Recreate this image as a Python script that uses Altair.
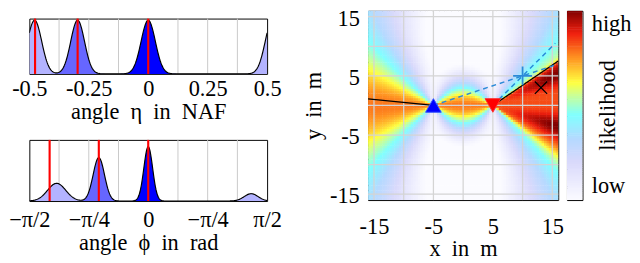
import json
import numpy as np
import pandas as pd
import altair as alt

FONT = "Liberation Serif, DejaVu Serif, serif"
FS = 23

# ---------------- top panel: angle eta in NAF ----------------
eta_means = [-0.478, -0.297, 0.0]
eta_sigmas = [0.030, 0.029, 0.030]
eta_heights = [0.97, 0.97, 0.97]
eta_shades = ["#b3b3ff", "#6666ff", "#0000ff"]
eta_red = [-0.476, -0.297, 0.0]
eta_ticks = [-0.5, -0.25, 0.0, 0.25, 0.5]
eta_tick_labels = ["-0.5", "-0.25", "0", "0.25", "0.5"]
eta_grid = [-0.375, -0.25, -0.125, 0.0, 0.125, 0.25, 0.375]

# ---------------- bottom panel: angle phi in rad ----------------
PI = float(np.pi)
phi_means = [-1.21, -0.653, 0.0, 1.36]
phi_sigmas = [0.12, 0.075, 0.058, 0.092]
phi_heights = [0.29, 0.71, 0.89, 0.12]
phi_shades = ["#b3b3ff", "#6666ff", "#0000ff", "#b3b3ff"]
phi_red = [-1.303, -0.653, 0.0]
phi_ticks = [-PI / 2, -PI / 4, 0.0, PI / 4, PI / 2]
phi_tick_labels = ["−π/2", "−π/4", "0", "−π/4", "π/2"]
phi_grid = [-3 * PI / 8, -PI / 4, -PI / 8, 0.0, PI / 8, PI / 4, 3 * PI / 8]

# ---------------- map: likelihood over x / y in m ----------------
map_domain = [-16.0, 16.0]
map_ticks = [-15, -5, 5, 15]
map_tick_labels = ["-15", "-5", "5", "15"]
map_grid = [-15, -10, -5, 0, 5, 10, 15]
sensor_x = [-5.0, 5.0]
sensor_y = [0.0, 0.0]
# angular model
base_level = 0.78
angle_penalty = 0.75
dist_scale = 36.0
wedge_low_deg = -36.0
wedge_up_deg = 34.4
wedge_level = 0.83
wedge_peak_deg = [-18.0, 26.0]
wedge_peak_width = [6.5, 5.5]
black_x = [-16.0, -5.0, 5.0, 16.0]
black_y = [1.1, 0.0, 0.0, 7.5]
black_id = [0, 0, 1, 1]
dash_x = [-5.0, 16.0, 5.0, 15.5]
dash_y = [0.0, 7.0, 0.0, 10.5]
dash_id = [0, 0, 1, 1]
est_x = [10.0]
est_y = [5.0]
true_x = [13.1]
true_y = [3.0]

# colour map (low -> high)
cmap_stops = [0.0, 0.2, 0.32, 0.45, 0.55, 0.62, 0.75, 0.88, 1.0]
cmap_colors = ["#fbfbff", "#d9d9fb", "#b6d9ff", "#80ffff", "#c8ff9a",
               "#ffff40", "#ff9422", "#f0200f", "#800000"]
cbar_values = [0.077, 0.933]
cbar_labels = ["low", "high"]


def label_lookup(labels, index_expr):
    return json.dumps(labels, ensure_ascii=False) + "[" + index_expr + "]"


def density_panel(xs, means, sigmas, heights, shades, red, grid, ticks,
                  labels, index_expr, domain, title, height, label_pad,
                  title_pad, period=None):
    axis = alt.Axis(values=ticks, labelExpr=label_lookup(labels, index_expr),
                    grid=False, ticks=False, domain=False, labelPadding=label_pad,
                    titlePadding=title_pad, labelOverlap=False, labelFlush=False,
                    title=title)
    xs_ = alt.Scale(domain=domain, nice=False, zero=False)
    ys_ = alt.Scale(domain=[0, 1], nice=False, zero=True)
    X = lambda f: alt.X(f, type="quantitative", scale=xs_, axis=axis)
    layers = []
    layers.append(alt.Chart(pd.DataFrame({"x": grid})).mark_rule(
        color="#c8c8c8", strokeWidth=1).encode(x=X("x")))
    total = np.zeros_like(xs)
    for m, sg, h, col in zip(means, sigmas, heights, shades):
        d = xs - m
        if period is not None:
            d = (d + period / 2) % period - period / 2
        yv = h * np.exp(-0.5 * (d / sg) ** 2)
        total = total + yv
        df = pd.DataFrame({"x": xs, "y": np.round(yv, 4)})
        layers.append(alt.Chart(df).mark_area(color=col, opacity=1, clip=True).encode(
            x=X("x"), y=alt.Y("y:Q", scale=ys_, axis=None)))
    dft = pd.DataFrame({"x": xs, "y": np.round(total, 4)})
    layers.append(alt.Chart(dft).mark_line(color="black", strokeWidth=1.2, clip=True).encode(
        x=X("x"), y=alt.Y("y:Q", scale=ys_, axis=None)))
    layers.append(alt.Chart(pd.DataFrame({"x": red})).mark_rule(
        color="#ff0000", strokeWidth=2.2).encode(x=X("x")))
    return alt.layer(*layers).properties(width=245, height=height)


eta_xs = np.linspace(-0.5, 0.5, 401)
top = density_panel(eta_xs, eta_means, eta_sigmas, eta_heights, eta_shades, eta_red,
                    eta_grid, eta_ticks, eta_tick_labels, "round(datum.value*4)+2",
                    [-0.5, 0.5], "angle \u00a0η \u00a0in \u00a0NAF", 57, 4, 1, period=1.0)

phi_xs = np.linspace(-PI / 2, PI / 2, 401)
bottom = density_panel(phi_xs, phi_means, phi_sigmas, phi_heights, phi_shades, phi_red,
                       phi_grid, phi_ticks, phi_tick_labels, "round(datum.value*4/PI)+2",
                       [-PI / 2, PI / 2], "angle \u00a0ϕ \u00a0in \u00a0rad", 63, 8, 1)

# ---------------- likelihood field ----------------
N = 80
edges = np.linspace(map_domain[0], map_domain[1], N + 1)
centers = (edges[:-1] + edges[1:]) / 2
CX, CY = np.meshgrid(centers, centers)
thA = np.arctan2(CY - sensor_y[0], CX - sensor_x[0])
thB = np.arctan2(CY - sensor_y[1], CX - sensor_x[1])
dA = np.hypot(CX - sensor_x[0], CY - sensor_y[0])
dB = np.hypot(CX - sensor_x[1], CY - sensor_y[1])
base = base_level - angle_penalty * (np.sin(thA) ** 2 * np.exp(-dA / dist_scale)
                                     + np.sin(thB) ** 2 * np.exp(-dB / dist_scale))
degB = np.degrees(thB)
inside = (1 / (1 + np.exp(-(degB - wedge_low_deg) / 3.0))) * \
         (1 / (1 + np.exp(-(wedge_up_deg - degB) / 0.8)))
peaks = sum(np.exp(-0.5 * ((degB - p) / w) ** 2) for p, w in zip(wedge_peak_deg, wedge_peak_width))
ramp = np.clip((dB - 2) / 8, 0, 1)
wedge = wedge_level + (1 - wedge_level) * np.clip(peaks, 0, 1) * ramp
field = np.clip(base * (1 - inside) + wedge * inside, 0, 1)

i_idx, j_idx = np.meshgrid(np.arange(N), np.arange(N))
ov = 0.08
heat_df = pd.DataFrame({
    "x0": edges[i_idx.ravel()], "x1": edges[i_idx.ravel() + 1] + ov,
    "y0": edges[j_idx.ravel()], "y1": edges[j_idx.ravel() + 1] + ov,
    "s": np.round(field.ravel(), 3),
})

cscale = alt.Scale(domain=cmap_stops, range=cmap_colors, interpolate="rgb", clamp=True)
mx = alt.Scale(domain=map_domain, nice=False, zero=False)
my = alt.Scale(domain=map_domain, nice=False, zero=False)
xaxis = alt.Axis(values=map_ticks, labelExpr=label_lookup(map_tick_labels, "round((datum.value+15)/10)"),
                 grid=False, ticks=False, domain=False, labelPadding=16, titlePadding=0,
                 labelOverlap=False, labelFlush=False, title="x \u00a0in \u00a0m")
yaxis = alt.Axis(values=map_ticks, labelExpr=label_lookup(map_tick_labels, "round((datum.value+15)/10)"),
                 grid=False, ticks=False, domain=False, labelPadding=9, titlePadding=4,
                 labelOffset=2, labelOverlap=False, labelFlush=False, title="y \u00a0in \u00a0m")
MX = lambda f: alt.X(f, type="quantitative", scale=mx, axis=xaxis)
MY = lambda f: alt.Y(f, type="quantitative", scale=my, axis=yaxis)

heat = alt.Chart(heat_df).mark_rect(clip=True).encode(
    x=MX("x0"), x2="x1", y=MY("y0"), y2="y1",
    color=alt.Color("s:Q", scale=cscale, legend=None))
gx = alt.Chart(pd.DataFrame({"x0": map_grid})).mark_rule(color="#d4d4d4", strokeWidth=1.3).encode(x=MX("x0"))
gy = alt.Chart(pd.DataFrame({"y0": map_grid})).mark_rule(color="#d4d4d4", strokeWidth=1.3).encode(y=MY("y0"))
blk = alt.Chart(pd.DataFrame({"x0": black_x, "y0": black_y, "id": black_id})).mark_line(
    color="black", strokeWidth=1.3, clip=True).encode(x=MX("x0"), y=MY("y0"), detail="id:N")
dsh = alt.Chart(pd.DataFrame({"x0": dash_x, "y0": dash_y, "id": dash_id})).mark_line(
    color="#2a8ad8", strokeWidth=1.5, strokeDash=[5, 4], clip=True).encode(
    x=MX("x0"), y=MY("y0"), detail="id:N")
s1 = alt.Chart(pd.DataFrame({"x0": sensor_x[:1], "y0": sensor_y[:1]})).mark_point(
    shape="triangle-up", filled=True, size=260, color="#0000ff", opacity=1,
    stroke="#3050ff", strokeWidth=1).encode(x=MX("x0"), y=MY("y0"))
s2 = alt.Chart(pd.DataFrame({"x0": sensor_x[1:], "y0": sensor_y[1:]})).mark_point(
    shape="triangle-down", filled=True, size=260, color="#ff0000", opacity=1,
    stroke="#ff3030", strokeWidth=1).encode(x=MX("x0"), y=MY("y0"))
est = alt.Chart(pd.DataFrame({"x0": est_x, "y0": est_y})).mark_point(
    shape="M-1,0L1,0M0,-1L0,1", size=380, color="#2a8ad8", strokeWidth=1.8, opacity=1).encode(
    x=MX("x0"), y=MY("y0"))
tru = alt.Chart(pd.DataFrame({"x0": true_x, "y0": true_y})).mark_point(
    shape="M-1,-1L1,1M-1,1L1,-1", size=160, color="black", strokeWidth=1.3, opacity=1).encode(
    x=MX("x0"), y=MY("y0"))
heatmap = alt.layer(heat, gx, gy, blk, dsh, s1, s2, est, tru).properties(width=196, height=195)

# ---------------- colour bar ----------------
nb = 100
cb_df = pd.DataFrame({
    "c0": [0.0] * nb, "c1": [1.0] * nb,
    "v0": [k / nb for k in range(nb)],
    "v1": [min(1.0, (k + 1.3) / nb) for k in range(nb)],
    "s": [(k + 0.5) / nb for k in range(nb)],
})
cbar = alt.Chart(cb_df).mark_rect(clip=True).encode(
    x=alt.X("c0:Q", scale=alt.Scale(domain=[0, 1], nice=False), axis=None), x2="c1",
    y=alt.Y("v0:Q", scale=alt.Scale(domain=[0, 1], nice=False),
            axis=alt.Axis(orient="right", values=cbar_values,
                          labelExpr=label_lookup(cbar_labels, "datum.value < 0.5 ? 0 : 1"),
                          grid=False, ticks=False, domain=False, labelPadding=9,
                          labelOverlap=False, labelFlush=False, title="likelihood",
                          titleAngle=270, titleX=33, titleY=97, titleAlign="center",
                          titleBaseline="alphabetic")),
    y2="v1",
    color=alt.Color("s:Q", scale=cscale, legend=None),
).properties(width=16, height=195)

spacer = alt.Chart(pd.DataFrame({"v": [0]})).mark_point(size=0.01, opacity=0).encode(
    x=alt.value(0), y=alt.value(0)
).properties(width=1, height=5, view=alt.ViewBackground(stroke="transparent"))

panels = alt.vconcat(top, bottom, spacing=68, bounds="flush")
left = alt.vconcat(spacer, panels, spacing=0)
right = alt.hconcat(heatmap, cbar, spacing=9, bounds="flush")
chart = alt.hconcat(left, right, spacing=20).properties(
    padding={"left": 0, "top": -5, "right": 0, "bottom": 0}
).configure_view(stroke="black", strokeWidth=1).configure_axis(
    labelFont=FONT, titleFont=FONT, labelFontSize=FS, titleFontSize=FS,
    labelColor="black", titleColor="black", titleFontWeight="normal"
)

chart.save("out.html", embed_options={"renderer": "svg", "actions": False})
